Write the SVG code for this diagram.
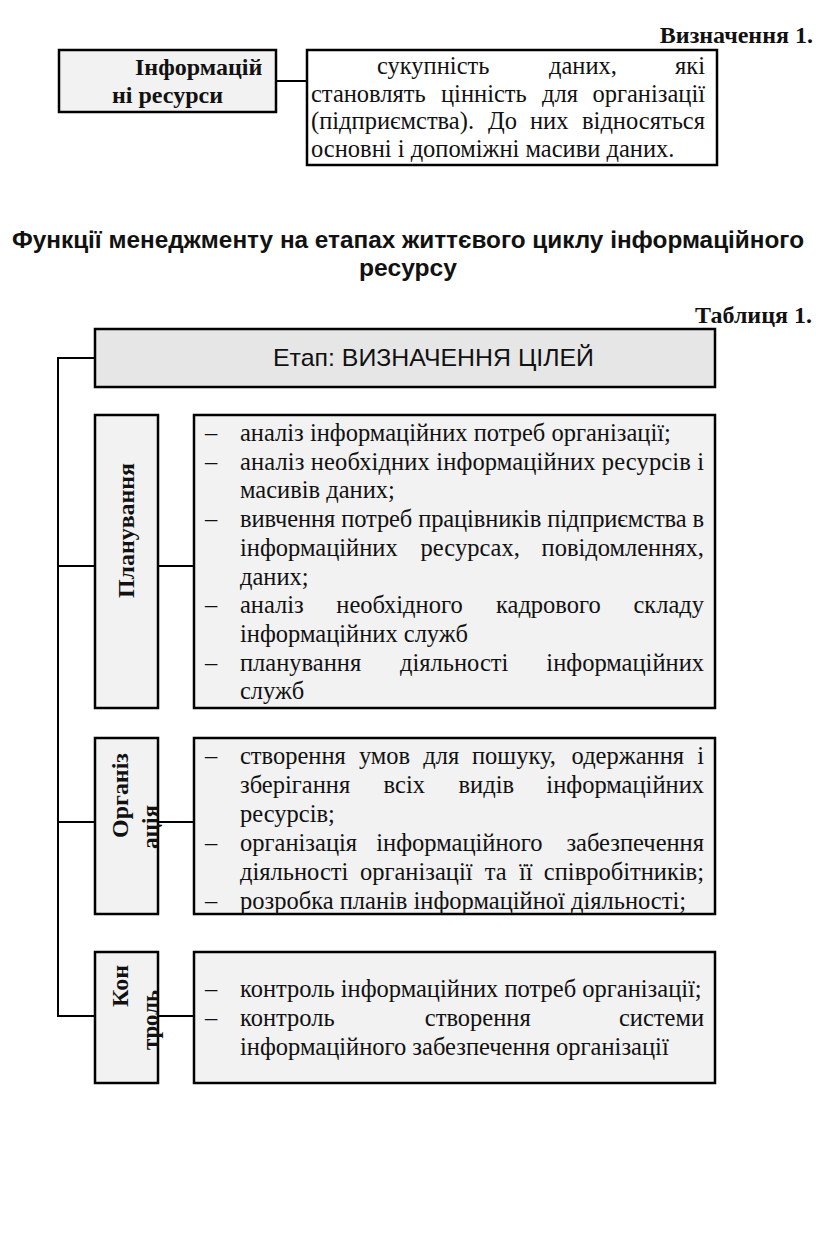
<svg xmlns="http://www.w3.org/2000/svg" width="816" height="1255" viewBox="0 0 816 1255">
<style>
.box{stroke:#000;stroke-width:2.5;fill:#f2f2f2}
.wbox{stroke:#000;stroke-width:2.5;fill:#fff}
.hbox{stroke:#000;stroke-width:2.5;fill:#e6e6e6}
.con{stroke:#000;stroke-width:2;fill:none}
.t{font-family:"Liberation Serif","Times New Roman",serif;font-size:24.5px;fill:#111}
.tb{font-family:"Liberation Serif","Times New Roman",serif;font-size:24px;font-weight:bold;fill:#111}
.s{font-family:"Liberation Sans",Arial,sans-serif;fill:#111}
</style>
<rect width="816" height="1255" fill="#fff"/>
<text class="tb" x="813" y="43" text-anchor="end">Визначення 1.</text>
<g id="connectors">
<line class="con" x1="276" y1="81" x2="307" y2="81"/>
<polyline class="con" points="95,358 58,358 58,1016 95,1016"/>
<line class="con" x1="58" y1="566" x2="95" y2="566"/>
<line class="con" x1="58" y1="822" x2="95" y2="822"/>
<line class="con" x1="158" y1="566" x2="194" y2="566"/>
<line class="con" x1="158" y1="822" x2="194" y2="822"/>
<line class="con" x1="158" y1="1016" x2="194" y2="1016"/>
</g>
<g id="info-resources">
<rect class="box" x="59" y="50" width="217" height="62"/>
<text class="tb" x="135" y="75">Інформацій</text>
<text class="tb" x="112" y="103">ні ресурси</text>
</g>
<g id="definition">
<rect class="wbox" x="307" y="50" width="410" height="115"/>
<text class="t" y="74"><tspan x="377">сукупність</tspan><tspan x="549">даних,</tspan><tspan x="705" text-anchor="end">які</tspan></text>
<text class="t" y="101.5"><tspan x="311">становлять</tspan><tspan x="441">цінність</tspan><tspan x="542">для</tspan><tspan x="705" text-anchor="end">організації</tspan></text>
<text class="t" y="129"><tspan x="311">(підприємства).</tspan><tspan x="488">До</tspan><tspan x="530">них</tspan><tspan x="705" text-anchor="end">відносяться</tspan></text>
<text class="t" x="311" y="156.5">основні і допоміжні масиви даних.</text>
</g>
<text class="s" x="12" y="248" font-size="24" font-weight="bold" textLength="792" lengthAdjust="spacingAndGlyphs">Функції менеджменту на етапах життєвого циклу інформаційного</text>
<text class="s" x="359" y="276" font-size="24" font-weight="bold" textLength="98" lengthAdjust="spacingAndGlyphs">ресурсу</text>
<text class="tb" x="812" y="323" text-anchor="end">Таблиця 1.</text>
<g id="stage">
<rect class="hbox" x="95" y="329" width="620" height="58"/>
<text class="s" x="273" y="366" font-size="24" textLength="321" lengthAdjust="spacingAndGlyphs">Етап: ВИЗНАЧЕННЯ ЦІЛЕЙ</text>
</g>
<g id="planning-label">
<rect class="box" x="95" y="415" width="63" height="293"/>
<text class="tb" transform="translate(134,530.5) rotate(-90)" text-anchor="middle" textLength="135" lengthAdjust="spacingAndGlyphs">Планування</text>
</g>
<g id="planning-content">
<rect class="box" x="194" y="415" width="521" height="293"/>
<g class="t">
<text x="205" y="441">–</text><text x="205" y="469.7">–</text><text x="205" y="527.1">–</text><text x="205" y="613.2">–</text><text x="205" y="670.6">–</text>
<text x="240" y="441">аналіз інформаційних потреб організації;</text>
<text x="240" y="469.7" textLength="464" lengthAdjust="spacing">аналіз необхідних інформаційних ресурсів і</text>
<text x="240" y="498.4">масивів даних;</text>
<text x="240" y="527.1" textLength="464" lengthAdjust="spacing">вивчення потреб працівників підприємства в</text>
<text y="555.8"><tspan x="240">інформаційних</tspan><tspan x="420.6">ресурсах,</tspan><tspan x="704" text-anchor="end">повідомленнях,</tspan></text>
<text x="240" y="584.5">даних;</text>
<text y="613.2"><tspan x="240">аналіз</tspan><tspan x="336.3">необхідного</tspan><tspan x="496">кадрового</tspan><tspan x="704" text-anchor="end">складу</tspan></text>
<text x="240" y="641.9">інформаційних служб</text>
<text y="670.6"><tspan x="240">планування</tspan><tspan x="400">діяльності</tspan><tspan x="704" text-anchor="end">інформаційних</tspan></text>
<text x="240" y="699.3">служб</text>
</g>
</g>
<g id="organization-label">
<rect class="box" x="95" y="738" width="63" height="176"/>
<text class="tb" transform="translate(128,795.5) rotate(-90)" text-anchor="middle" textLength="85" lengthAdjust="spacingAndGlyphs">Організ</text>
<text class="tb" transform="translate(158,827) rotate(-90)" text-anchor="middle" textLength="44" lengthAdjust="spacingAndGlyphs">ація</text>
</g>
<g id="organization-content">
<rect class="box" x="194" y="738" width="521" height="176"/>
<g class="t">
<text x="205" y="764">–</text><text x="205" y="851">–</text><text x="205" y="909">–</text>
<text y="764"><tspan x="240">створення</tspan><tspan x="358.9">умов</tspan><tspan x="423.3">для</tspan><tspan x="472">пошуку,</tspan><tspan x="571.6">одержання</tspan><tspan x="704" text-anchor="end">і</tspan></text>
<text y="793"><tspan x="240">зберігання</tspan><tspan x="383.6">всіх</tspan><tspan x="458.5">видів</tspan><tspan x="704" text-anchor="end">інформаційних</tspan></text>
<text x="240" y="822">ресурсів;</text>
<text y="851"><tspan x="240">організація</tspan><tspan x="376.3">інформаційного</tspan><tspan x="704" text-anchor="end">забезпечення</tspan></text>
<text y="880"><tspan x="240">діяльності</tspan><tspan x="359.9">організації</tspan><tspan x="484.7">та</tspan><tspan x="518.9">її</tspan><tspan x="704" text-anchor="end">співробітників;</tspan></text>
<text x="240" y="909">розробка планів інформаційної діяльності;</text>
</g>
</g>
<g id="control-label">
<rect class="box" x="95" y="952" width="63" height="131"/>
<text class="tb" transform="translate(128,986) rotate(-90)" text-anchor="middle" textLength="42" lengthAdjust="spacingAndGlyphs">Кон</text>
<text class="tb" transform="translate(158,1020) rotate(-90)" text-anchor="middle" textLength="60" lengthAdjust="spacingAndGlyphs">троль</text>
</g>
<g id="control-content">
<rect class="box" x="194" y="952" width="521" height="131"/>
<g class="t">
<text x="205" y="997">–</text><text x="205" y="1026">–</text>
<text x="240" y="997">контроль інформаційних потреб організації;</text>
<text y="1026"><tspan x="240">контроль</tspan><tspan x="424.8">створення</tspan><tspan x="704" text-anchor="end">системи</tspan></text>
<text x="240" y="1055">інформаційного забезпечення організації</text>
</g>
</g>
</svg>
